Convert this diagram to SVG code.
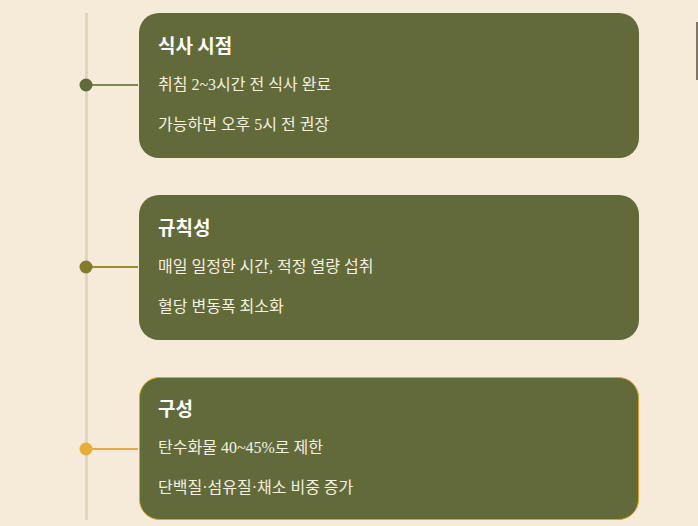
<svg xmlns="http://www.w3.org/2000/svg" width="698" height="526" viewBox="0 0 698 526">
<style>
.card{fill:#626a3a}
.t{font-family:"Noto Sans CJK KR","Noto Sans",sans-serif;font-weight:700;font-size:19px;fill:#fff}
.b{font-family:"Liberation Serif","Noto Sans CJK KR",serif;font-size:16px;fill:#f5efe0}
</style>
<rect width="698" height="526" fill="#f5ebd8"/>
<line x1="86.5" y1="13" x2="86.5" y2="520" stroke="#e0d6c0" stroke-width="3"/>
<g id="connectors">
<line x1="90" y1="85" x2="138" y2="85" stroke="#7d8752" stroke-width="2"/>
<line x1="90" y1="267" x2="138" y2="267" stroke="#9a8d30" stroke-width="2"/>
<line x1="90" y1="449" x2="138" y2="449" stroke="#e0ac3a" stroke-width="2"/>
</g>
<g id="node1">
<circle cx="86" cy="85" r="6.5" fill="#5f6b38"/>
<rect class="card" x="139" y="13" width="500" height="145" rx="20"/>
<text class="t" x="158" y="53">식사 시점</text>
<text class="b" x="158" y="90">취침 2~3시간 전 식사 완료</text>
<text class="b" x="158" y="130">가능하면 오후 5시 전 권장</text>
</g>
<g id="node2">
<circle cx="86" cy="267" r="6.5" fill="#857b2c"/>
<rect class="card" x="139" y="195" width="500" height="145" rx="20"/>
<text class="t" x="158" y="235">규칙성</text>
<text class="b" x="158" y="272">매일 일정한 시간, 적정 열량 섭취</text>
<text class="b" x="158" y="312">혈당 변동폭 최소화</text>
</g>
<g id="node3">
<circle cx="86" cy="449" r="6.5" fill="#e4af3d"/>
<rect class="card" x="139.5" y="377.5" width="499" height="142" rx="20" stroke="#d9a630" stroke-width="1"/>
<text class="t" x="158" y="416">구성</text>
<text class="b" x="158" y="453">탄수화물 40~45%로 제한</text>
<text class="b" x="158" y="493">단백질·섬유질·채소 비중 증가</text>
</g>
<line x1="697" y1="22" x2="697" y2="80" stroke="#5a5040" stroke-width="1.5"/>
</svg>
